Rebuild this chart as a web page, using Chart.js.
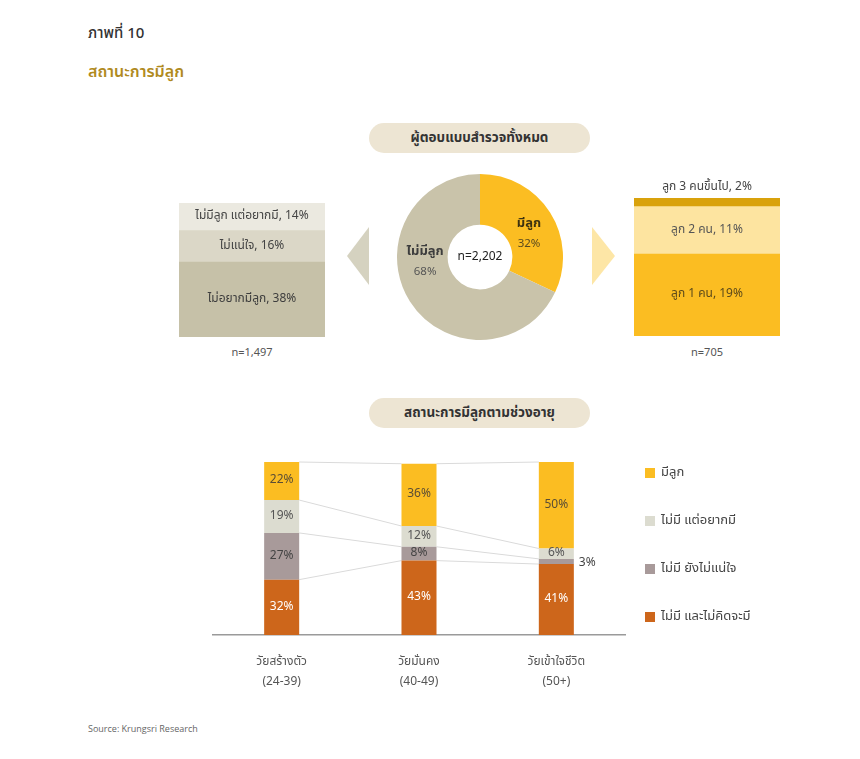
<!DOCTYPE html>
<html>
<head>
<meta charset="utf-8">
<script src="https://cdn.jsdelivr.net/npm/chart.js@4.4.0/dist/chart.umd.min.js"></script>
<style>
  html, body { margin:0; padding:0; background:#fff; }
  body { width:860px; height:759px; position:relative; overflow:hidden;
         font-family:"Noto Sans Thai","Noto Sans Thai UI",Loma,Garuda,Tahoma,"Noto Sans",sans-serif; }
  .abs { position:absolute; }
  .t1 { left:88px; top:22px; font-size:15px; font-weight:500; color:#333; }
  .t2 { left:88px; top:60px; font-size:16px; font-weight:600; color:#b08a1e; }
  .pill { background:#ede5d3; border-radius:16px; height:30px; width:221px; left:369px;
          text-align:center; line-height:30px; font-size:13.5px; font-weight:700; color:#333; }
  .n { font-size:11px; color:#555; text-align:center; width:160px; }
  .src { left:88px; top:722px; font-size:9px; color:#666; font-family:"Open Sans","Liberation Sans",sans-serif; }
  canvas { position:absolute; }
</style>
</head>
<body>
<div class="abs t1">ภาพที่ 10</div>
<div class="abs t2">สถานะการมีลูก</div>
<div class="abs pill" style="top:123px">ผู้ตอบแบบสำรวจทั้งหมด</div>
<div class="abs pill" style="top:398px">สถานะการมีลูกตามช่วงอายุ</div>
<div class="abs" style="left:347px;top:227px;width:0;height:0;border-top:29px solid transparent;border-bottom:29px solid transparent;border-right:22px solid #d5d2c0;"></div>
<div class="abs" style="left:592px;top:227px;width:0;height:0;border-top:29px solid transparent;border-bottom:29px solid transparent;border-left:23px solid #fde6a6;"></div>
<div class="abs n" id="nLeft" style="left:172px;top:344px"></div>
<div class="abs n" id="nRight" style="left:627px;top:344px"></div>
<div class="abs src">Source: Krungsri Research</div>

<canvas id="donut" width="166" height="166" style="left:397px;top:174px;width:166px;height:166px"></canvas>
<canvas id="leftBox" width="146" height="134" style="left:179px;top:203px;width:146px;height:134px"></canvas>
<canvas id="rightBox" width="146" height="160" style="left:634px;top:176px;width:146px;height:160px"></canvas>
<canvas id="bars" width="640" height="280" style="left:200px;top:440px;width:640px;height:280px"></canvas>

<script>
// ---------- DATA ----------
const donutLabels = ['มีลูก', 'ไม่มีลูก'];
const donutValues = [32, 68];
const donutTotal = 'n=2,202';

const noChildLabels = ['ไม่อยากมีลูก', 'ไม่แน่ใจ', 'ไม่มีลูก แต่อยากมี'];
const noChildValues = [38, 16, 14];
const noChildN = 'n=1,497';

const childLabels = ['ลูก 1 คน', 'ลูก 2 คน', 'ลูก 3 คนขึ้นไป'];
const childValues = [19, 11, 2];
const childN = 'n=705';

const ageGroups = [['วัยสร้างตัว', '(24-39)'], ['วัยมั่นคง', '(40-49)'], ['วัยเข้าใจชีวิต', '(50+)']];
const seriesNames = ['ไม่มี และไม่คิดจะมี', 'ไม่มี ยังไม่แน่ใจ', 'ไม่มี แต่อยากมี', 'มีลูก'];
const noPlanValues = [32, 43, 41];
const unsureValues = [27, 8, 3];
const wantValues = [19, 12, 6];
const hasChildValues = [22, 36, 50];

// ---------- STYLE ----------
const FONT = '"Noto Sans Thai","Noto Sans Thai UI",Loma,Garuda,Tahoma,"Noto Sans",sans-serif';
Chart.defaults.font.family = FONT;
Chart.defaults.animation = false;

document.getElementById('nLeft').textContent = noChildN;
document.getElementById('nRight').textContent = childN;

// ---------- DONUT ----------
const donutLabelPlugin = {
  id: 'donutLabels',
  afterDatasetsDraw(chart, args, opts) {
    const ctx = chart.ctx;
    const meta = chart.getDatasetMeta(0);
    const arc0 = meta.data[0];
    const cx = arc0.x, cy = arc0.y;
    ctx.save();
    ctx.textAlign = 'center';
    ctx.textBaseline = 'middle';
    ctx.fillStyle = '#222';
    ctx.font = '12px ' + FONT;
    ctx.fillText(donutTotal, cx, cy + 1);
    meta.data.forEach((arc, i) => {
      const ang = opts.angles[i] * Math.PI / 180;
      const r = opts.radius;
      const x = cx + r * Math.cos(ang), y = cy + r * Math.sin(ang);
      ctx.fillStyle = opts.nameColors[i];
      ctx.font = '700 13px ' + FONT;
      ctx.fillText(donutLabels[i], x, y - 8);
      ctx.fillStyle = opts.valColors[i];
      ctx.font = '11.5px ' + FONT;
      ctx.fillText(donutValues[i] + '%', x, y + 13);
    });
    ctx.restore();
  }
};
new Chart(document.getElementById('donut'), {
  type: 'doughnut',
  data: { labels: donutLabels, datasets: [{ data: donutValues, backgroundColor: ['#fbbd22', '#c9c3aa'], borderWidth: 0 }] },
  options: {
    responsive: false, cutout: '39%',
    layout: { padding: 0 },
    plugins: { legend: { display: false }, tooltip: { enabled: false },
      donutLabels: { angles: [-27, 177], radius: 55, nameColors: ['#3d3210', '#3d3d3d'], valColors: ['#5a4a1e', '#555'] } }
  },
  plugins: [donutLabelPlugin]
});

// ---------- SINGLE STACKED BOXES ----------
const boxLabelPlugin = {
  id: 'boxLabels',
  afterDatasetsDraw(chart, args, opts) {
    const ctx = chart.ctx;
    ctx.save();
    ctx.textAlign = 'center';
    ctx.textBaseline = 'middle';
    ctx.font = '12px ' + FONT;
    chart.data.datasets.forEach((ds, i) => {
      const el = chart.getDatasetMeta(i).data[0];
      const p = el.getProps(['x', 'y', 'base'], true);
      const h = Math.abs(p.base - p.y);
      const txt = ds.label + ', ' + ds.data[0] + '%';
      ctx.fillStyle = opts.colors[i];
      if (h < 14) ctx.fillText(txt, p.x, p.y - 10);
      else ctx.fillText(txt, p.x, (p.y + p.base) / 2);
    });
    ctx.restore();
  }
};
function boxChart(id, labels, values, colors, textColors, padTop) {
  const total = values.reduce((a, b) => a + b, 0);
  return new Chart(document.getElementById(id), {
    type: 'bar',
    data: {
      labels: [''],
      datasets: labels.map((l, i) => ({ label: l, data: [values[i]], backgroundColor: colors[i], borderWidth: 0,
        barPercentage: 1, categoryPercentage: 1 }))
    },
    options: {
      responsive: false,
      layout: { padding: { top: padTop, left: 0, right: 0, bottom: 0 } },
      scales: { x: { stacked: true, display: false }, y: { stacked: true, display: false, min: 0, max: total } },
      plugins: { legend: { display: false }, tooltip: { enabled: false }, boxLabels: { colors: textColors } }
    },
    plugins: [boxLabelPlugin]
  });
}
boxChart('leftBox', noChildLabels, noChildValues, ['#c6c1a8', '#dbd7c7', '#ebe9e0'], ['#3d3d3d', '#444', '#444'], 0);
boxChart('rightBox', childLabels, childValues, ['#fbbd22', '#fde4a0', '#d9a20c'], ['#5c4a1a', '#555', '#444'], 22);

// ---------- AGE BAR CHART ----------
const barColors = ['#cd661b', '#a89a9a', '#dcdcd0', '#fbbd22'];
const barTextColors = ['#ffffff', '#444444', '#555555', '#5a4d35'];
const seriesData = [noPlanValues, unsureValues, wantValues, hasChildValues];

const seriesLinePlugin = {
  id: 'seriesLines',
  beforeDatasetsDraw(chart) {
    const ctx = chart.ctx;
    ctx.save();
    ctx.strokeStyle = '#dadada';
    ctx.lineWidth = 1;
    chart.data.datasets.forEach((ds, i) => {
      const els = chart.getDatasetMeta(i).data;
      for (let j = 0; j < els.length - 1; j++) {
        const a = els[j].getProps(['x', 'y', 'width'], true);
        const b = els[j + 1].getProps(['x', 'y', 'width'], true);
        ctx.beginPath();
        ctx.moveTo(a.x + a.width / 2, a.y);
        ctx.lineTo(b.x - b.width / 2, b.y);
        ctx.stroke();
      }
    });
    ctx.restore();
  }
};
const barLabelPlugin = {
  id: 'barLabels',
  afterDatasetsDraw(chart) {
    const ctx = chart.ctx;
    ctx.save();
    ctx.textBaseline = 'middle';
    ctx.font = '12px ' + FONT;
    chart.data.datasets.forEach((ds, i) => {
      chart.getDatasetMeta(i).data.forEach((el, j) => {
        const p = el.getProps(['x', 'y', 'base', 'width'], true);
        const h = Math.abs(p.base - p.y);
        const txt = ds.data[j] + '%';
        if (h < 8) {
          ctx.textAlign = 'left';
          ctx.fillStyle = '#444';
          ctx.fillText(txt, p.x + p.width / 2 + 5, (p.y + p.base) / 2 + 2);
        } else {
          ctx.textAlign = 'center';
          ctx.fillStyle = barTextColors[i];
          ctx.fillText(txt, p.x, (p.y + p.base) / 2);
        }
      });
    });
    // legend
    const n = chart.data.datasets.length;
    ctx.textAlign = 'left';
    ctx.font = '13px ' + FONT;
    for (let k = 0; k < n; k++) {
      const i = n - 1 - k;
      const y = 33 + k * 48;
      ctx.fillStyle = barColors[i];
      ctx.fillRect(445, y - 5, 10, 10);
      ctx.fillStyle = '#444';
      ctx.fillText(chart.data.datasets[i].label, 461, y);
    }
    ctx.restore();
  }
};
new Chart(document.getElementById('bars'), {
  type: 'bar',
  data: {
    labels: ageGroups,
    datasets: seriesNames.map((name, i) => ({
      label: name, data: seriesData[i], backgroundColor: barColors[i], borderWidth: 0,
      barPercentage: 0.255, categoryPercentage: 1
    }))
  },
  options: {
    responsive: false,
    layout: { padding: { left: 13, right: 215, top: 22, bottom: 25 } },
    scales: {
      x: {
        stacked: true,
        grid: { display: false },
        border: { display: true, color: '#9a9a9a', width: 1.5 },
        ticks: { color: '#555', font: { size: 12, lineHeight: 1.67 }, padding: 10, maxRotation: 0 },
        afterFit: (s) => { s.height = 60; }
      },
      y: { stacked: true, display: false, min: 0, max: 100 }
    },
    plugins: { legend: { display: false }, tooltip: { enabled: false } }
  },
  plugins: [seriesLinePlugin, barLabelPlugin]
});
</script>
</body>
</html>
